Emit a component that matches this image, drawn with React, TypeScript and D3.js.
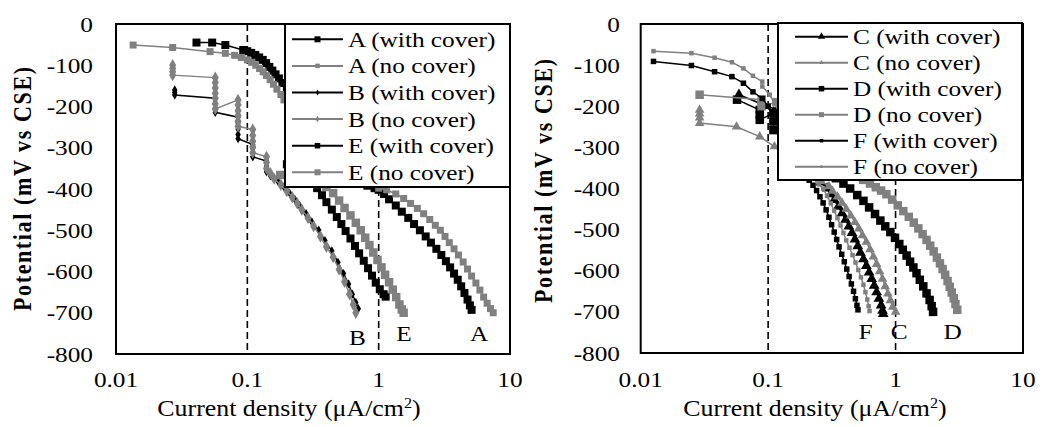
import React from 'react';
import * as d3 from 'd3';

// axis ticks
const xTicks = [0.01, 0.1, 1, 10];
const xTickLabels = ['0.01', '0.1', '1', '10'];
const yTicks = [0, -100, -200, -300, -400, -500, -600, -700, -800];
const guideLines = [0.1, 1];

// left panel: [current density (uA/cm2), potential (mV vs CSE)]
const aWithCover = [[0.041,-45],[0.054,-45],[0.068,-51],[0.093,-63],[0.1,-66],[0.107,-70],[0.115,-75],[0.123,-81],[0.131,-87],[0.139,-95],[0.147,-104],[0.155,-113],[0.164,-122],[0.174,-132],[0.185,-143],[0.2,-158],[0.22,-175],[0.25,-200],[0.29,-230],[0.34,-260],[0.4,-290],[0.47,-320],[0.56,-350],[0.68,-375],[0.82,-392],[0.93,-398],[1.0,-402],[1.1,-412],[1.2,-425],[1.35,-440],[1.5,-455],[1.68,-470],[1.86,-485],[2.06,-500],[2.28,-515],[2.5,-530],[2.75,-545],[3.0,-560],[3.25,-575],[3.5,-590],[3.75,-605],[4.0,-620],[4.25,-636],[4.5,-652],[4.75,-668],[4.95,-682],[5.1,-693]];
const aNoCover = [[0.0135,-51],[0.027,-57],[0.052,-67],[0.068,-71],[0.08,-76],[0.09,-81],[0.1,-87],[0.108,-93],[0.116,-100],[0.124,-108],[0.132,-116],[0.14,-125],[0.149,-135],[0.158,-146],[0.168,-158],[0.18,-171],[0.19,-184],[0.22,-212],[0.27,-250],[0.34,-290],[0.45,-330],[0.6,-365],[0.8,-388],[1.0,-398],[1.15,-402],[1.35,-412],[1.55,-423],[1.75,-435],[1.97,-447],[2.2,-460],[2.45,-474],[2.7,-488],[2.95,-500],[3.2,-515],[3.45,-530],[3.75,-545],[4.05,-560],[4.4,-577],[4.75,-594],[5.1,-611],[5.5,-628],[5.9,-645],[6.3,-662],[6.7,-677],[7.1,-690],[7.45,-700]];
const bWithCover = [[0.028,-160],[0.028,-166],[0.028,-172],[0.057,-180],[0.057,-192],[0.057,-204],[0.057,-214],[0.085,-226],[0.085,-240],[0.085,-255],[0.085,-268],[0.085,-278],[0.11,-292],[0.11,-302],[0.11,-312],[0.11,-322],[0.14,-332],[0.14,-345],[0.14,-358],[0.15,-368],[0.17,-380],[0.19,-395],[0.21,-410],[0.23,-425],[0.25,-440],[0.28,-460],[0.31,-480],[0.35,-500],[0.39,-525],[0.44,-550],[0.49,-578],[0.54,-605],[0.59,-630],[0.63,-655],[0.67,-675],[0.7,-690]];
const bNoCover = [[0.027,-100],[0.027,-108],[0.027,-116],[0.027,-124],[0.057,-130],[0.057,-142],[0.057,-155],[0.057,-168],[0.057,-180],[0.057,-194],[0.057,-206],[0.085,-184],[0.085,-196],[0.085,-210],[0.085,-222],[0.085,-236],[0.085,-248],[0.11,-256],[0.11,-270],[0.11,-284],[0.11,-298],[0.11,-312],[0.14,-322],[0.14,-336],[0.14,-350],[0.15,-362],[0.16,-375],[0.18,-390],[0.2,-405],[0.22,-420],[0.24,-435],[0.26,-450],[0.29,-470],[0.32,-490],[0.36,-515],[0.4,-540],[0.45,-565],[0.5,-595],[0.55,-625],[0.6,-655],[0.64,-680],[0.67,-700]];
const eWithCover = [[0.2,-340],[0.25,-360],[0.3,-380],[0.34,-398],[0.37,-415],[0.4,-432],[0.44,-450],[0.48,-468],[0.52,-485],[0.56,-502],[0.61,-520],[0.66,-538],[0.71,-556],[0.77,-574],[0.83,-592],[0.89,-610],[0.95,-627],[1.02,-643],[1.09,-655],[1.13,-661]];
const eNoCover = [[0.178,-366],[0.22,-372],[0.28,-380],[0.34,-388],[0.4,-395],[0.45,-410],[0.5,-428],[0.55,-446],[0.61,-464],[0.67,-482],[0.73,-500],[0.79,-518],[0.85,-536],[0.91,-554],[0.98,-572],[1.05,-590],[1.12,-608],[1.2,-626],[1.28,-644],[1.36,-662],[1.44,-680],[1.5,-692],[1.55,-700]];

// right panel
const cWithCover = [[0.059,-172],[0.09,-195],[0.11,-215],[0.14,-270],[0.18,-330],[0.22,-365],[0.26,-385],[0.29,-400],[0.31,-414],[0.33,-428],[0.355,-444],[0.38,-460],[0.405,-476],[0.43,-492],[0.455,-508],[0.48,-524],[0.505,-540],[0.53,-556],[0.56,-572],[0.59,-588],[0.62,-604],[0.65,-620],[0.68,-636],[0.71,-652],[0.74,-668],[0.77,-684],[0.79,-697],[0.8,-705]];
const cNoCover = [[0.029,-209],[0.029,-218],[0.029,-228],[0.029,-241],[0.0565,-250],[0.086,-274],[0.112,-298],[0.15,-330],[0.2,-360],[0.26,-382],[0.3,-395],[0.32,-406],[0.35,-420],[0.38,-435],[0.41,-450],[0.445,-466],[0.48,-482],[0.515,-498],[0.55,-514],[0.59,-530],[0.63,-548],[0.67,-566],[0.71,-584],[0.75,-602],[0.79,-620],[0.83,-638],[0.87,-656],[0.91,-672],[0.95,-688],[1.0,-700]];
const dWithCover = [[0.057,-184],[0.086,-209],[0.086,-221],[0.086,-233],[0.11,-217],[0.11,-237],[0.11,-258],[0.15,-290],[0.2,-320],[0.28,-355],[0.34,-375],[0.39,-388],[0.44,-400],[0.5,-416],[0.56,-430],[0.62,-446],[0.69,-462],[0.76,-478],[0.83,-492],[0.91,-506],[0.99,-520],[1.07,-535],[1.14,-549],[1.22,-563],[1.3,-578],[1.38,-592],[1.46,-606],[1.55,-622],[1.65,-638],[1.75,-655],[1.85,-671],[1.92,-686],[1.97,-700]];
const dNoCover = [[0.029,-172],[0.089,-184],[0.089,-194],[0.089,-200],[0.116,-190],[0.16,-230],[0.22,-280],[0.3,-320],[0.4,-352],[0.48,-368],[0.556,-379],[0.63,-388],[0.7,-397],[0.77,-405],[0.847,-414],[0.94,-427],[1.04,-441],[1.15,-455],[1.27,-469],[1.39,-483],[1.51,-497],[1.63,-511],[1.75,-525],[1.87,-539],[1.99,-553],[2.11,-568],[2.23,-582],[2.34,-596],[2.45,-610],[2.56,-625],[2.66,-639],[2.76,-653],[2.86,-667],[2.95,-681],[3.05,-695]];
const fWithCover = [[0.0126,-91],[0.025,-101],[0.038,-116],[0.052,-128],[0.064,-144],[0.076,-165],[0.09,-181],[0.1,-200],[0.116,-209],[0.13,-240],[0.15,-290],[0.17,-330],[0.19,-360],[0.21,-380],[0.225,-392],[0.24,-405],[0.255,-420],[0.27,-435],[0.285,-452],[0.3,-470],[0.315,-488],[0.33,-506],[0.345,-524],[0.36,-542],[0.378,-560],[0.396,-578],[0.414,-596],[0.432,-614],[0.45,-632],[0.468,-650],[0.484,-668],[0.498,-684],[0.507,-695]];
const fNoCover = [[0.0126,-66],[0.025,-71],[0.038,-82],[0.052,-93],[0.064,-108],[0.076,-126],[0.09,-140],[0.09,-152],[0.103,-172],[0.13,-230],[0.16,-300],[0.19,-345],[0.22,-372],[0.25,-390],[0.27,-400],[0.29,-418],[0.31,-436],[0.33,-454],[0.35,-472],[0.37,-490],[0.39,-508],[0.41,-526],[0.435,-544],[0.46,-562],[0.485,-580],[0.51,-598],[0.535,-616],[0.56,-634],[0.58,-652],[0.6,-670],[0.615,-686],[0.625,-698]];

// curve-end labels
const leftNotes = [['B', 0.69, -778], ['E', 1.56, -768], ['A', 5.82, -768]];
const rightNotes = [['F', 0.58, -766], ['C', 1.07, -766], ['D', 2.8, -766]];

const BLACK = '#000';
const GREY = '#808080';
const FONT = "'Liberation Serif', 'Times New Roman', serif";
const SX = 1.15;

const leftSeries = [
  {name: 'A (with cover)', data: aWithCover, color: BLACK, shape: 'square', size: 8, lsize: 6},
  {name: 'A (no cover)', data: aNoCover, color: GREY, shape: 'square', size: 7, lsize: 4.5},
  {name: 'B (with cover)', data: bWithCover, color: BLACK, shape: 'diamond', size: 6.5, lsize: 4},
  {name: 'B (no cover)', data: bNoCover, color: GREY, shape: 'diamond', size: 8.5, lsize: 4.5},
  {name: 'E (with cover)', data: eWithCover, color: BLACK, shape: 'square', size: 8, lsize: 5.5},
  {name: 'E (no cover)', data: eNoCover, color: GREY, shape: 'square', size: 8.5, lsize: 6},
];
const rightSeries = [
  {name: 'C (with cover)', data: cWithCover, color: BLACK, shape: 'triangle', size: 10, lsize: 7},
  {name: 'C (no cover)', data: cNoCover, color: GREY, shape: 'triangle', size: 9, lsize: 4.5},
  {name: 'D (with cover)', data: dWithCover, color: BLACK, shape: 'square', size: 8.5, lsize: 5.5},
  {name: 'D (no cover)', data: dNoCover, color: GREY, shape: 'square', size: 8.5, lsize: 5},
  {name: 'F (with cover)', data: fWithCover, color: BLACK, shape: 'square', size: 5.5, lsize: 3.5},
  {name: 'F (no cover)', data: fNoCover, color: GREY, shape: 'square', size: 4.5, lsize: 2.5},
];

const symbols = {square: d3.symbolSquare, diamond: d3.symbolDiamond, triangle: d3.symbolTriangle};
const markPath = (shape, s) => {
  const area = shape === 'square' ? s * s : shape === 'diamond' ? s * s * 0.6 : s * s * 0.5;
  return d3.symbol(symbols[shape], area)();
};

const Txt = ({x, y, anchor = 'start', size = 22, bold = false, children}) => (
  <text transform={`translate(${x},${y}) scale(${SX},1)`} textAnchor={anchor}
    fontSize={size} fontWeight={bold ? 'bold' : 'normal'} fontFamily={FONT} fill="#000">
    {children}
  </text>
);

const Panel = ({frame, series, notes, legend, yLabelX, yLabelY, yTickX, xTitleX}) => {
  const x = d3.scaleLog().domain([0.01, 10]).range([frame.l, frame.r]);
  const y = d3.scaleLinear().domain([0, -800]).range([frame.t, frame.b]);
  const line = d3.line().x(d => x(d[0])).y(d => y(d[1]));

  return (
    <g>
      {guideLines.map(v => (
        <line key={v} x1={x(v)} x2={x(v)} y1={frame.t} y2={frame.b}
          stroke="#000" strokeWidth={1.6} strokeDasharray="7,4" />
      ))}

      {series.map(s => (
        <g key={s.name}>
          <path d={line(s.data)} fill="none" stroke={s.color} strokeWidth={1.5} />
          {s.data.map((d, i) => (
            <path key={i} d={markPath(s.shape, s.size)}
              transform={`translate(${x(d[0])},${y(d[1])})`} fill={s.color} />
          ))}
        </g>
      ))}

      {notes.map(([t, cx, p]) => (
        <Txt key={t} x={x(cx)} y={y(p)} anchor="middle">{t}</Txt>
      ))}

      <rect x={frame.l} y={frame.t} width={frame.r - frame.l} height={frame.b - frame.t}
        fill="none" stroke="#000" strokeWidth={2} />

      {/* legend */}
      <rect x={legend.x} y={legend.y} width={legend.w} height={legend.h}
        fill="#fff" stroke="#000" strokeWidth={2} />
      {series.map((s, i) => {
        const ry = legend.row0 + i * legend.gap;
        const mx = (legend.l0 + legend.l1) / 2;
        return (
          <g key={s.name}>
            <line x1={legend.l0} x2={legend.l1} y1={ry} y2={ry} stroke={s.color} strokeWidth={2} />
            <path d={markPath(s.shape, s.lsize)} transform={`translate(${mx},${ry})`} fill={s.color} />
            <Txt x={legend.tx} y={ry + 7.5}>{s.name}</Txt>
          </g>
        );
      })}

      {yTicks.map(v => (
        <Txt key={v} x={yTickX} y={y(v) + 7.5} anchor="end">{String(v)}</Txt>
      ))}
      {xTicks.map((v, i) => (
        <Txt key={v} x={x(v)} y={387} anchor="middle">{xTickLabels[i]}</Txt>
      ))}

      <Txt x={xTitleX} y={416} anchor="middle" size={22.5}>
        Current density (μA/cm<tspan fontSize={14} dy={-8}>2</tspan><tspan dy={8}>)</tspan>
      </Txt>

      <text transform={`translate(${yLabelX},${yLabelY}) rotate(-90) scale(1,${SX})`}
        textAnchor="middle" fontSize={22} fontWeight="bold" fontFamily={FONT}
        textLength={244} lengthAdjust="spacing">
        Potential (mV vs CSE)
      </text>
    </g>
  );
};

export default function App() {
  return (
    <svg width={1048} height={427} style={{position: 'absolute', left: 0, top: 0, background: '#fff'}}>
      <rect x={0} y={0} width={1048} height={427} fill="#fff" />
      <Panel
        frame={{l: 116, r: 510, t: 24, b: 354}}
        series={leftSeries}
        notes={leftNotes}
        legend={{x: 285, y: 24, w: 225, h: 163, row0: 39.3, gap: 26.6, l0: 292, l1: 343, tx: 348}}
        yLabelX={31} yLabelY={189} yTickX={93} xTitleX={289}
      />
      <Panel
        frame={{l: 640.7, r: 1023, t: 24, b: 353}}
        series={rightSeries}
        notes={rightNotes}
        legend={{x: 778, y: 23, w: 244, h: 157, row0: 36.7, gap: 26, l0: 795, l1: 848, tx: 853}}
        yLabelX={552} yLabelY={181} yTickX={620} xTitleX={815}
      />
    </svg>
  );
}
